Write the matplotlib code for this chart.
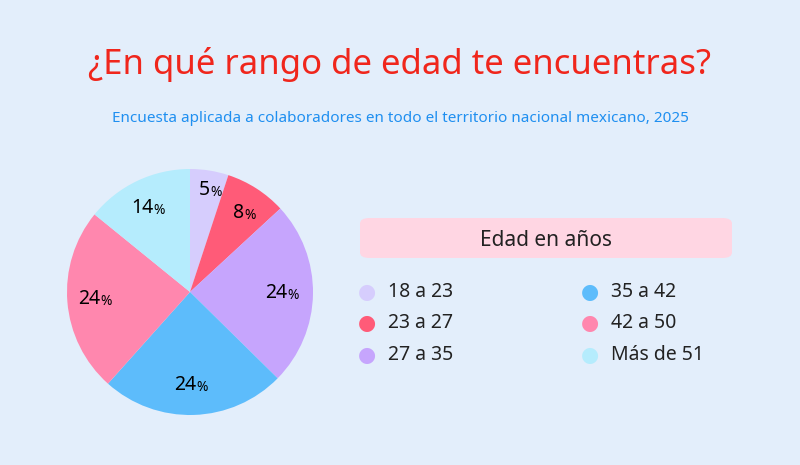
import matplotlib.pyplot as plt
import numpy as np
from matplotlib.patches import FancyBboxPatch

categories = ["18 a 23", "23 a 27", "27 a 35", "35 a 42", "42 a 50", "Más de 51"]
values = [5, 8, 24, 24, 24, 14]
colors = ["#d6cdfd", "#ff5b78", "#c6a5fd", "#5dbcfb", "#ff87ae", "#b5ecfd"]
bg = "#e3eefb"
FONT = "Noto Sans"

fig = plt.figure(figsize=(8, 4.65), dpi=100, facecolor=bg)
W, H = 800, 465
def fx(x): return x / W
def fy(y): return 1 - y / H

fig.text(0.5, fy(64), "¿En qué rango de edad te encuentras?", ha="center", va="center",
         fontsize=25, fontweight="bold", color="#f0261c", family=FONT)
fig.text(0.5, fy(119), "Encuesta aplicada a colaboradores en todo el territorio nacional mexicano, 2025",
         ha="center", va="center", fontsize=11, fontweight="bold", color="#1f8ff0", family=FONT)

ax = fig.add_axes([fx(67), fy(415), 246 / W, 246 / H])
ax.set_facecolor(bg)
wedges, _ = ax.pie(values, colors=colors, startangle=90, counterclock=False,
                   wedgeprops=dict(linewidth=0))
ax.set_xlim(-1, 1); ax.set_ylim(-1, 1)
ax.set_aspect("equal")
for v, w in zip(values, wedges):
    mid = np.deg2rad((w.theta1 + w.theta2) / 2)
    r = 0.84 if v < 6 else 0.76
    x, y = r * np.cos(mid), r * np.sin(mid)
    ax.text(x + 0.03, y, f"{v}", ha="right", va="center", fontsize=14, fontweight="bold", family=FONT)
    ax.text(x + 0.03, y - 0.02, "%", ha="left", va="center", fontsize=10, fontweight="bold", family=FONT)

box = FancyBboxPatch((fx(360), fy(258)), fx(732) - fx(360), fy(218) - fy(258),
                     boxstyle="round,pad=0,rounding_size=0.012", transform=fig.transFigure,
                     facecolor="#ffd6e3", edgecolor="none")
fig.patches.append(box)
fig.text(fx(546), fy(240), "Edad en años", ha="center", va="center", fontsize=15, family=FONT, color="#222")

pos = [(367, 292), (367, 323), (367, 355), (590, 292), (590, 323), (590, 355)]
for (x, y), c, lab in zip(pos, colors, categories):
    fig.text(fx(x), fy(y), "●", ha="center", va="center", fontsize=15, color=c)
    fig.text(fx(x + 21), fy(y), lab, ha="left", va="center", fontsize=14, family=FONT, color="#222")

fig.savefig("out.png", dpi=100, facecolor=bg)
